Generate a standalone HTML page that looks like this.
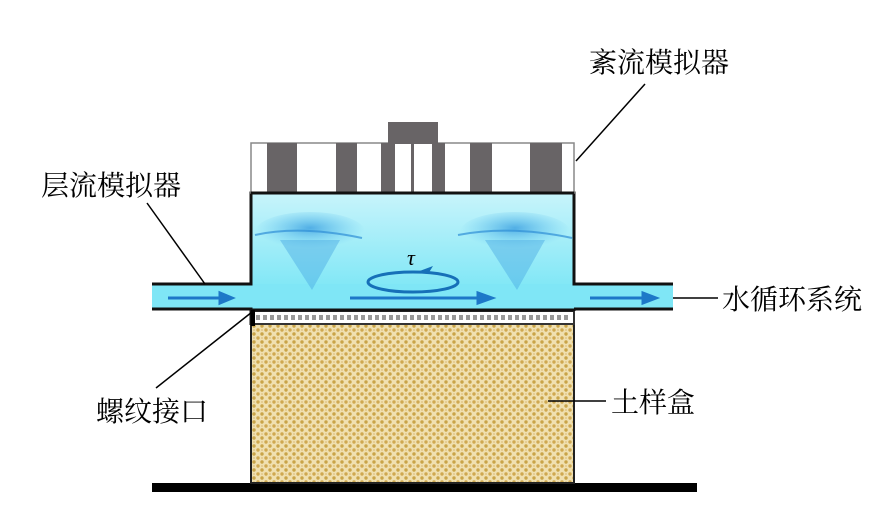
<!DOCTYPE html>
<html><head><meta charset="utf-8"><style>
html,body{margin:0;padding:0;background:#fff;}
svg{display:block}
text{font-family:"Liberation Serif","Noto Serif CJK SC","Noto Sans CJK SC",serif;font-size:28px;fill:#000}
</style></head><body>
<svg width="886" height="508" viewBox="0 0 886 508" xmlns="http://www.w3.org/2000/svg">
<defs>
<pattern id="soil" width="8" height="8" patternUnits="userSpaceOnUse">
<rect width="8" height="8" fill="#f0e0b0"/>
<circle cx="2" cy="2" r="1.7" fill="#cfa850"/>
<circle cx="6" cy="6" r="1.7" fill="#c9a448"/>
<circle cx="6" cy="2" r="0.9" fill="#ddc080"/>
</pattern>
<linearGradient id="water" x1="0" y1="0" x2="0" y2="1">
<stop offset="0" stop-color="#c8f4fb"/><stop offset="1" stop-color="#6fe4f5"/>
</linearGradient>
<radialGradient id="swirl" cx="0.5" cy="0.4" r="0.5">
<stop offset="0" stop-color="#3a9ee0" stop-opacity="0.8"/><stop offset="1" stop-color="#5bc0ee" stop-opacity="0"/>
</radialGradient>
</defs>
<rect x="152" y="483" width="545" height="9" fill="#000"/>
<rect x="251" y="324" width="323" height="159" fill="url(#soil)" stroke="#222" stroke-width="2"/>
<rect x="251" y="311" width="323" height="13" fill="#fff" stroke="#333" stroke-width="2"/>
<line x1="256" y1="317.5" x2="570" y2="317.5" stroke="#999" stroke-width="5" stroke-dasharray="4 3"/>
<rect x="152" y="284" width="100" height="25" fill="#7fe6f6"/>
<rect x="573" y="284" width="100" height="25" fill="#7fe6f6"/>
<rect x="251" y="193" width="323" height="117" fill="url(#water)"/>
<rect x="251" y="284" width="323" height="26" fill="#7fe6f6"/>
<ellipse cx="310" cy="232" rx="55" ry="20" fill="url(#swirl)"/>
<path d="M280 240 L340 240 L312 290 Z" fill="#4aa8e2" opacity="0.45"/>
<path d="M255 235 Q300 225 362 238" stroke="#2f8fd6" stroke-width="2" fill="none" opacity="0.7"/>
<ellipse cx="515" cy="232" rx="55" ry="20" fill="url(#swirl)"/>
<path d="M485 240 L545 240 L517 290 Z" fill="#4aa8e2" opacity="0.45"/>
<path d="M458 235 Q510 225 572 238" stroke="#2f8fd6" stroke-width="2" fill="none" opacity="0.7"/>
<path d="M152 284 H251 V193 H574 V284 H673" fill="none" stroke="#111" stroke-width="3"/>
<path d="M152 309 H251 V325 M251 310 H574 M574 310 V311 M574 309 H673" fill="none" stroke="#111" stroke-width="3"/>
<line x1="253" y1="310" x2="253" y2="326" stroke="#000" stroke-width="4"/>
<g stroke="#1d78c8" stroke-width="3" fill="#1d78c8">
<line x1="168" y1="298" x2="222" y2="298"/><path d="M232 298 L220 293 L220 303 Z"/>
<line x1="350" y1="298" x2="480" y2="298"/><path d="M492 298 L478 293 L478 303 Z"/>
<line x1="590" y1="298" x2="645" y2="298"/><path d="M656 298 L643 293 L643 303 Z"/>
</g>
<ellipse cx="413" cy="282" rx="45" ry="10" fill="none" stroke="#1670b8" stroke-width="3"/>
<path d="M417 272 L433 266 L428 274 Z" fill="#1670b8"/>
<text x="407" y="265" font-style="italic" style="font-size:22px">τ</text>
<rect x="251" y="143" width="323" height="50" fill="#fff" stroke="#888" stroke-width="1.5"/>
<g fill="#686466">
<rect x="267" y="143" width="30" height="50"/>
<rect x="336" y="143" width="21" height="50"/>
<rect x="381" y="143" width="14" height="50"/>
<rect x="411" y="143" width="3" height="50"/>
<rect x="432" y="143" width="13" height="50"/>
<rect x="470" y="143" width="22" height="50"/>
<rect x="530" y="143" width="32" height="50"/>
<rect x="388" y="122" width="50" height="22"/>
</g>
<line x1="251" y1="193" x2="574" y2="193" stroke="#111" stroke-width="3"/>
<g stroke="#000" stroke-width="1.5">
<line x1="645" y1="84" x2="576" y2="161"/>
<line x1="147" y1="203" x2="205" y2="284"/>
<line x1="673" y1="298" x2="718" y2="298"/>
<line x1="252" y1="312" x2="156" y2="388"/>
<line x1="548" y1="401" x2="606" y2="401"/>
</g>
<text x="589" y="72">紊流模拟器</text>
<text x="41" y="195">层流模拟器</text>
<text x="722" y="309">水循环系统</text>
<text x="96" y="421">螺纹接口</text>
<text x="611" y="412">土样盒</text>
</svg>
</body></html>
